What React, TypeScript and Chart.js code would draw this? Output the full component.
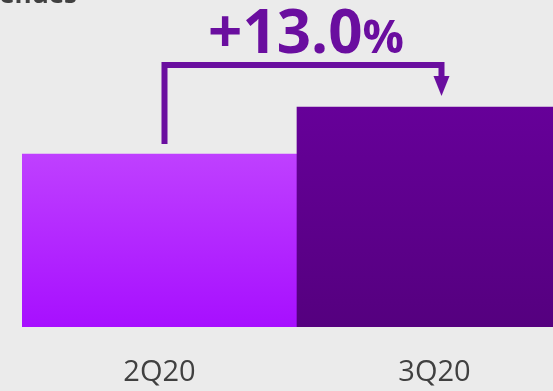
import React, { useEffect, useRef } from "react";
import { Chart, registerables } from "chart.js";

Chart.register(...registerables);

const categories = ["2Q20", "3Q20"];
const values = [100, 113];
const changeLabel = "+13.0";
const changeUnit = "%";
const titleText = "Revenues";

const topColors = ["#bf40ff", "#660099"];
const bottomColors = ["#a70fff", "#55007f"];
const accent = "#6a0e9f";

const annotationPlugin = {
  id: "changeArrow",
  afterDatasetsDraw(chart: any) {
    const { ctx } = chart;
    const meta = chart.getDatasetMeta(0);
    const b1 = meta.data[0];
    const b2 = meta.data[1];
    if (!b1 || !b2) return;
    const x1 = b1.x + 5;
    const x2 = b2.x + 7;
    const yTop = 65;
    const y1 = b1.y - 10;
    const tipY = b2.y - 11;
    ctx.save();
    ctx.strokeStyle = accent;
    ctx.fillStyle = accent;
    ctx.lineWidth = 6;
    ctx.lineCap = "butt";
    ctx.lineJoin = "miter";
    ctx.beginPath();
    ctx.moveTo(x1, y1);
    ctx.lineTo(x1, yTop);
    ctx.lineTo(x2, yTop);
    ctx.lineTo(x2, tipY - 19);
    ctx.stroke();
    ctx.beginPath();
    ctx.moveTo(x2 - 8, tipY - 20);
    ctx.lineTo(x2 + 8, tipY - 20);
    ctx.lineTo(x2, tipY);
    ctx.closePath();
    ctx.fill();

    const big = "bold 60px 'Open Sans', sans-serif";
    const small = "bold 46px 'Open Sans', sans-serif";
    ctx.font = big;
    const w1 = ctx.measureText(changeLabel).width;
    ctx.font = small;
    const w2 = ctx.measureText(changeUnit).width;
    const cx = (x1 + x2) / 2 + 3;
    const startX = cx - (w1 + w2) / 2;
    ctx.textBaseline = "alphabetic";
    ctx.textAlign = "left";
    ctx.font = big;
    ctx.fillText(changeLabel, startX, 53);
    ctx.font = small;
    ctx.fillText(changeUnit, startX + w1, 53);

    ctx.fillStyle = "#404040";
    ctx.font = "bold 26px 'Open Sans', sans-serif";
    ctx.textAlign = "right";
    ctx.fillText(titleText, 77, 3);
    ctx.restore();
  },
};

export default function App() {
  const ref = useRef<HTMLCanvasElement>(null);
  useEffect(() => {
    const canvas = ref.current;
    if (!canvas) return;
    const chart = new Chart(canvas, {
      type: "bar",
      data: {
        labels: categories,
        datasets: [
          {
            data: values,
            borderWidth: 0,
            categoryPercentage: 1,
            barPercentage: 1,
            backgroundColor: (c: any) => {
              const area = c.chart.chartArea;
              const i = c.dataIndex ?? 0;
              const ys = c.chart.scales?.y;
              if (!area || !ys) return topColors[i];
              const top = ys.getPixelForValue(values[i]);
              if (!isFinite(top) || !isFinite(area.bottom)) return topColors[i];
              const g = c.chart.ctx.createLinearGradient(0, top, 0, area.bottom);
              g.addColorStop(0, topColors[i]);
              g.addColorStop(1, bottomColors[i]);
              return g;
            },
          },
        ],
      },
      options: {
        responsive: false,
        animation: false,
        layout: { padding: { left: 22, right: 8, top: 0, bottom: 1 } },
        plugins: {
          legend: { display: false },
          tooltip: { enabled: false },
          title: { display: false },
        },
        scales: {
          x: {
            grid: { display: false, drawTicks: false },
            border: { display: false },
            ticks: {
              color: "#404040",
              padding: 28.6,
              font: { family: "'Open Sans', sans-serif", size: 29 },
            },
          },
          y: {
            display: false,
            min: 52.15,
            max: 142.6,
          },
        },
      },
      plugins: [annotationPlugin],
    });
    return () => chart.destroy();
  }, []);
  return (
    <div
      style={{
        position: "fixed",
        left: 0,
        top: 0,
        width: 553,
        height: 391,
        overflow: "hidden",
        background: "#ebebeb",
      }}
    >
      <canvas ref={ref} width={580} height={420} style={{ display: "block" }} />
    </div>
  );
}
